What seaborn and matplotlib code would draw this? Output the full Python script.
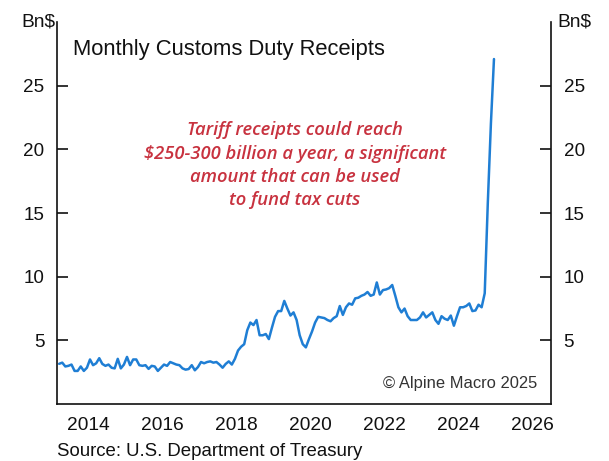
import numpy as np
import pandas as pd
import matplotlib
matplotlib.use("Agg")
import matplotlib.pyplot as plt
import seaborn as sns

# Monthly customs duty receipts, Bn$, Sep 2013 - Jun 2025
first_month = "2013-09"
receipts = [
    3.16, 3.25, 2.95, 3.00,                                                  # 2013 Sep-Dec
    3.10, 2.60, 2.60, 2.95, 2.60, 2.85, 3.50, 3.05, 3.20, 3.60, 3.15, 3.00,  # 2014
    3.10, 2.85, 2.80, 3.55, 2.80, 3.10, 3.70, 3.05, 3.50, 3.50, 3.05, 3.00,  # 2015
    3.05, 2.76, 3.00, 2.95, 2.60, 2.85, 3.10, 3.00, 3.30, 3.20, 3.10, 3.05,  # 2016
    2.80, 2.70, 2.75, 3.05, 2.65, 2.90, 3.30, 3.20, 3.30, 3.35, 3.25, 3.30,  # 2017
    3.10, 2.85, 3.15, 3.35, 3.10, 3.55, 4.20, 4.50, 4.70, 5.80, 6.40, 6.20,  # 2018
    6.60, 5.40, 5.40, 5.50, 5.10, 6.00, 6.85, 7.30, 7.30, 8.10, 7.50, 6.95,  # 2019
    7.20, 6.60, 5.40, 4.70, 4.45, 5.10, 5.70, 6.40, 6.85, 6.80, 6.75, 6.60,  # 2020
    6.50, 6.75, 6.90, 7.70, 7.00, 7.60, 7.90, 7.80, 8.30, 8.35, 8.50, 8.60,  # 2021
    8.80, 8.50, 8.60, 9.55, 8.60, 8.95, 9.00, 9.10, 9.35, 8.50, 7.60, 7.20,  # 2022
    7.50, 6.90, 6.60, 6.60, 6.60, 6.80, 7.20, 6.80, 7.00, 7.20, 6.60, 6.30,  # 2023
    6.90, 6.70, 6.60, 6.95, 6.15, 6.90, 7.60, 7.60, 7.70, 7.90, 7.30, 7.35,  # 2024
    7.80, 7.60, 8.70, 15.8, 22.0, 27.1,                                      # 2025 Jan-Jun
]

y_ticks = [5, 10, 15, 20, 25]
year_ticks = list(range(2014, 2027))
year_labels = ["2014", "2016", "2018", "2020", "2022", "2024", "2026"]

title_text = "Monthly Customs Duty Receipts"
unit_text = "Bn$"
note_text = ("Tariff receipts could reach\n$250-300 billion a year, a significant\n"
             "amount that can be used\nto fund tax cuts")
credit_text = "\u00a9 Alpine Macro 2025"
source_text = "Source: U.S. Department of Treasury"

# month positions as decimal years (centred within each month)
months = pd.period_range(first_month, periods=len(receipts), freq="M")
df = pd.DataFrame({
    "t": months.year + (months.month - 0.5) / 12.0,
    "receipts": receipts,
})

sns.set_style("white")
plt.rcParams["font.family"] = ["Liberation Sans", "DejaVu Sans"]

fig = plt.figure(figsize=(6.09, 4.61), dpi=100)
ax = fig.add_axes([0.0936, 0.1236, 0.8112, 0.8284])

sns.lineplot(data=df, x="t", y="receipts", ax=ax, color="#1f7ed4", linewidth=1.8)

ax.set_xlim(2013.65, 2027.0)
ax.set_ylim(0, 30)
ax.set_xlabel("")
ax.set_ylabel("")

for side in ["left", "right", "bottom"]:
    ax.spines[side].set_visible(True)
    ax.spines[side].set_color("#111111")
    ax.spines[side].set_linewidth(1.2)
ax.spines["top"].set_visible(False)

# year boundaries as tick marks, labels centred in mid-year
ax.set_xticks(year_ticks)
ax.set_xticklabels([])
ax.set_xticks([int(y) + 0.5 for y in year_labels], minor=True)
ax.set_xticklabels(year_labels, minor=True)
ax.tick_params(axis="x", which="major", direction="in", length=8, width=1.2, color="#111111")
ax.tick_params(axis="x", which="minor", length=0, pad=9, labelsize=13.8, labelcolor="#111111")

ax.set_yticks(y_ticks)
ax.set_yticklabels([str(v) for v in y_ticks])
ax.tick_params(axis="y", which="major", direction="in", length=8, width=1.2, color="#111111",
               left=True, right=True, labelleft=True, labelright=True,
               pad=9, labelsize=13.6, labelcolor="#111111")

# unit labels over both axes
ax.text(-0.004, 1.0, unit_text, transform=ax.transAxes, ha="right", va="center",
        fontsize=13.8, color="#111111")
ax.text(1.013, 1.0, unit_text, transform=ax.transAxes, ha="left", va="center",
        fontsize=13.8, color="#111111")

ax.text(0.033, 0.955, title_text, transform=ax.transAxes, ha="left", va="top",
        fontsize=15.8, color="#111111")

ax.text(0.482, 0.740, note_text, transform=ax.transAxes, ha="center", va="top",
        fontsize=13.2, color="#c8323f", family=["Open Sans", "DejaVu Sans"],
        style="italic", weight="semibold", linespacing=1.37)

ax.text(0.973, 0.035, credit_text, transform=ax.transAxes, ha="right", va="bottom",
        fontsize=11.9, color="#333333")

fig.text(0.0936, 0.003, source_text, ha="left", va="bottom", fontsize=13.4,
         color="#111111")

fig.savefig("out.png", dpi=100)
